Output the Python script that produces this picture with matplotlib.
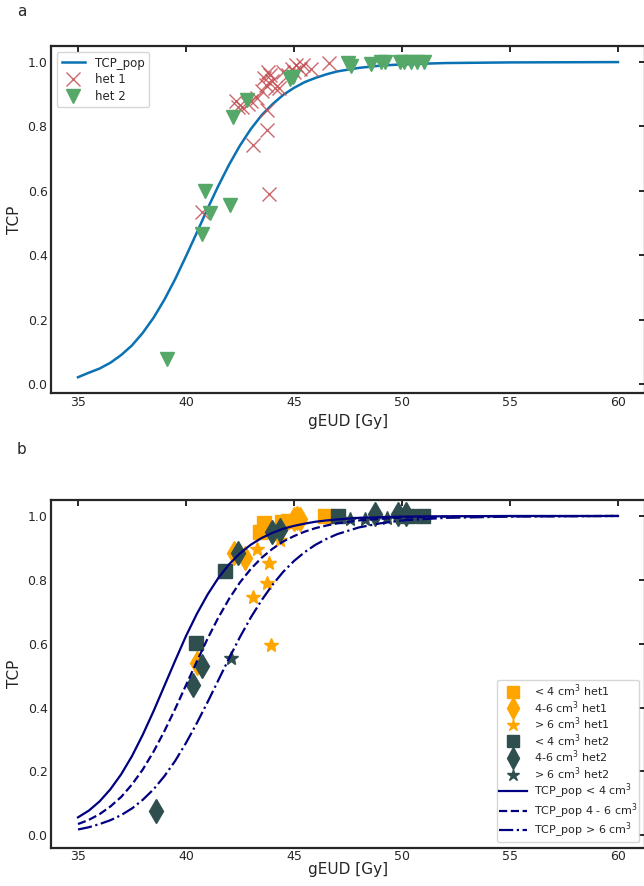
import matplotlib
matplotlib.use("Agg")
import matplotlib.pyplot as plt

# ---------------- data ----------------
# model curves
dose_grid = [35, 35.5, 36, 36.5, 37, 37.5, 38, 38.5, 39, 39.5, 40, 40.5, 41, 41.5,
             42, 42.5, 43, 43.5, 44, 44.5, 45, 45.5, 46, 46.5, 47, 48, 49, 50, 52, 55, 60]
tcp_pop = [0.021, 0.035, 0.048, 0.066, 0.090, 0.120, 0.159, 0.206, 0.262, 0.326, 0.397,
           0.470, 0.545, 0.616, 0.682, 0.741, 0.792, 0.835, 0.869, 0.898, 0.920, 0.938,
           0.951, 0.962, 0.971, 0.982, 0.989, 0.993, 0.997, 0.999, 1.0]
tcp_lt4 = [0.056, 0.077, 0.106, 0.144, 0.191, 0.248, 0.315, 0.389, 0.468, 0.547, 0.624,
           0.693, 0.754, 0.806, 0.849, 0.883, 0.910, 0.931, 0.947, 0.960, 0.969, 0.976,
           0.982, 0.986, 0.989, 0.994, 0.996, 0.998, 0.999, 1.0, 1.0]
tcp_4to6 = [0.035, 0.048, 0.066, 0.090, 0.120, 0.159, 0.206, 0.262, 0.326, 0.396, 0.470,
            0.544, 0.616, 0.682, 0.741, 0.792, 0.834, 0.869, 0.897, 0.920, 0.937, 0.951,
            0.962, 0.970, 0.977, 0.986, 0.991, 0.995, 0.998, 0.999, 1.0]
tcp_gt6 = [0.018, 0.025, 0.035, 0.047, 0.063, 0.084, 0.111, 0.144, 0.185, 0.233, 0.289,
           0.351, 0.417, 0.486, 0.555, 0.621, 0.682, 0.736, 0.784, 0.825, 0.859, 0.887,
           0.910, 0.928, 0.943, 0.964, 0.977, 0.986, 0.994, 0.998, 1.0]

# panel a scatter
het1_x = [40.75, 43.12, 43.77, 43.77, 43.85, 42.3, 42.6, 42.85, 43.3, 43.5, 43.6, 43.7,
          43.9, 44.0, 44.1, 43.8, 44.3, 44.5, 44.7, 44.9, 45.0, 45.1, 45.3, 45.4, 45.8,
          46.6, 42.4, 43.0]
het1_y = [0.533, 0.742, 0.789, 0.851, 0.590, 0.88, 0.86, 0.87, 0.89, 0.91, 0.95, 0.93,
          0.96, 0.94, 0.92, 0.97, 0.92, 0.97, 0.96, 0.98, 0.97, 0.99, 0.98, 0.99, 0.98,
          0.998, 0.86, 0.88]
het2_x = [39.13, 40.87, 42.02, 41.13, 40.76, 42.17, 42.82, 44.82, 44.95, 47.5, 47.66,
          48.58, 49.04, 49.2, 49.9, 50.1, 50.4, 50.7, 51.0]
het2_y = [0.078, 0.600, 0.556, 0.532, 0.466, 0.828, 0.882, 0.949, 0.955, 0.998, 0.988,
          0.994, 1.0, 1.0, 1.0, 1.0, 1.0, 1.0, 1.0]

# panel b scatter
lt4_het1_x = [43.43, 43.59, 44.43, 44.7, 46.43]
lt4_het1_y = [0.951, 0.977, 0.982, 0.985, 1.0]
mid_het1_x = [40.51, 42.2, 42.74, 45.0, 45.12, 45.3]
mid_het1_y = [0.538, 0.883, 0.867, 0.99, 0.994, 0.99]
gt6_het1_x = [43.28, 43.82, 43.74, 43.12, 43.94, 44.35]
gt6_het1_y = [0.895, 0.854, 0.791, 0.745, 0.595, 0.925]
lt4_het2_x = [41.82, 40.44, 47.04, 50.3, 50.96]
lt4_het2_y = [0.828, 0.601, 1.0, 1.0, 1.0]
mid_het2_x = [38.63, 40.33, 40.75, 42.43, 43.97, 44.35, 48.73, 49.8, 50.2]
mid_het2_y = [0.075, 0.47, 0.53, 0.883, 0.951, 0.956, 1.005, 1.005, 1.005]
gt6_het2_x = [42.08, 47.6, 48.3, 49.3]
gt6_het2_y = [0.554, 0.99, 0.99, 0.995]

# ---------------- style ----------------
plt.rcParams['font.family'] = ['DejaVu Sans']
txt = '#262626'
plt.rcParams.update({
    'axes.edgecolor': txt, 'axes.linewidth': 1.6,
    'xtick.color': txt, 'ytick.color': txt,
    'axes.labelcolor': txt, 'text.color': txt,
})

fig = plt.figure(figsize=(6.44, 8.86), dpi=100)
ax1 = fig.add_axes([51/644, 1-393/886, (645-51)/644, (393-46)/886])
ax2 = fig.add_axes([51/644, 1-848/886, (645-51)/644, (848-500)/886])


def style(ax, ylim, xpad, xlabelpad):
    ax.set_xlim(33.75, 61.25)
    ax.set_ylim(*ylim)
    ax.set_xticks([35, 40, 45, 50, 55, 60])
    ax.set_yticks([0.0, 0.2, 0.4, 0.6, 0.8, 1.0])
    ax.tick_params(axis='x', which='both', bottom=False, top=True, direction='in',
                   length=4, width=1.4, labelsize=9, pad=xpad)
    ax.tick_params(axis='y', which='both', left=False, right=True, direction='in',
                   length=4, width=1.4, labelsize=9, pad=2.5)
    ax.set_xlabel('gEUD [Gy]', fontsize=11, labelpad=xlabelpad)
    ax.set_ylabel('TCP', fontsize=11, labelpad=4)


# panel a
ax1.plot(dose_grid, tcp_pop, color='#0a72b3', lw=1.8, label='TCP_pop')
ax1.plot(het1_x, het1_y, ls='none', marker='x', ms=10, mew=1.0, color='#c44e52',
         alpha=0.85, label='het 1')
ax1.plot(het2_x, het2_y, ls='none', marker='v', ms=10, color='#55a868', label='het 2')
style(ax1, (-0.028, 1.05), 2.5, 3)
ax1.legend(loc='upper left', fontsize=8.5, frameon=True, borderpad=0.4,
           handletextpad=0.8, labelspacing=0.3)

# panel b
orange = '#ffa500'
dark = '#2f4f4f'
ax2.plot(lt4_het1_x, lt4_het1_y, ls='none', marker='s', ms=10, color=orange,
         label=r'< 4 cm$^3$ het1')
ax2.plot(mid_het1_x, mid_het1_y, ls='none', marker='d', ms=12, color=orange,
         label=r'4-6 cm$^3$ het1')
ax2.plot(gt6_het1_x, gt6_het1_y, ls='none', marker='*', ms=10, color=orange,
         label=r'> 6 cm$^3$ het1')
ax2.plot(lt4_het2_x, lt4_het2_y, ls='none', marker='s', ms=10, color=dark,
         label=r'< 4 cm$^3$ het2')
ax2.plot(mid_het2_x, mid_het2_y, ls='none', marker='d', ms=12, color=dark,
         label=r'4-6 cm$^3$ het2')
ax2.plot(gt6_het2_x, gt6_het2_y, ls='none', marker='*', ms=10, color=dark,
         label=r'> 6 cm$^3$ het2')
ax2.plot(dose_grid, tcp_lt4, color='navy', lw=1.6, ls='-', label=r'TCP_pop < 4 cm$^3$')
ax2.plot(dose_grid, tcp_4to6, color='navy', lw=1.6, ls='--',
         label=r'TCP_pop 4 - 6 cm$^3$')
ax2.plot(dose_grid, tcp_gt6, color='navy', lw=1.6, ls='-.',
         label=r'TCP_pop > 6 cm$^3$')
style(ax2, (-0.04, 1.05), 1.5, -1)
ax2.legend(loc='lower right', fontsize=8, frameon=True, borderpad=0.2,
           handletextpad=0.6, labelspacing=0.0, handlelength=2.5,
           borderaxespad=0.5, markerscale=0.9)

fig.text(17/644, 1-12/886, 'a', fontsize=11, va='center', ha='left')
fig.text(17/644, 1-450/886, 'b', fontsize=11, va='center', ha='left')

fig.savefig('out.png', dpi=100)
